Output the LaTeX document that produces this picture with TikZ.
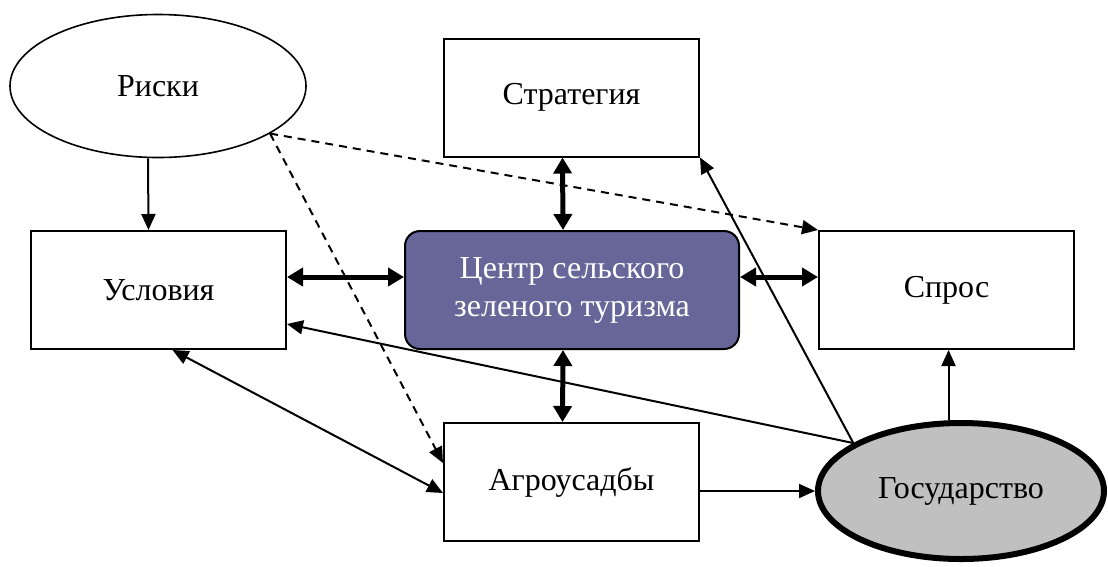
\documentclass[tikz,border=0pt]{standalone}
\usepackage{fontspec}
\setmainfont{Liberation Serif}
\usetikzlibrary{arrows.meta}
\usetikzlibrary{shapes.geometric}
\definecolor{centrefill}{RGB}{102,102,153}
\definecolor{statefill}{RGB}{192,192,192}

\begin{document}
\begin{tikzpicture}[x=1pt, y=-1pt,
      every node/.style={font=\fontsize{32}{38}\selectfont},
      box/.style={rectangle, draw, line width=2pt, minimum width=255pt, minimum height=118pt, inner sep=0pt, align=center},
          centre box/.style={box, rounded corners=15pt, fill=centrefill, text=white, minimum width=334pt},
      oval/.style={ellipse, draw, line width=1.6pt, minimum width=296pt, minimum height=143pt, inner sep=0pt},
          state oval/.style={oval, line width=6pt, fill=statefill, minimum width=286pt, minimum height=136pt},
      link/.style={line width=2pt, -{Triangle[length=16pt,width=14pt]}},
          both link/.style={link, {Triangle[length=16pt,width=14pt]}-{Triangle[length=16pt,width=14pt]}},
          weak link/.style={link, dash pattern=on 8pt off 6pt},
      strong link/.style={line width=5pt, {Triangle[length=16pt,width=18pt]}-{Triangle[length=16pt,width=18pt]}},
      ]
        \useasboundingbox (0,0) rectangle (1108,566);

        \node[oval]        (risks)      at (158,86)    {Риски};
        \node[box]         (strategy)   at (571.5,97.5) {Стратегия};
        \node[box]         (conditions) at (158.5,290) {Условия};
        \node[centre box]  (centre)     at (572,290)   {Центр сельского\\зеленого туризма};
        \node[box]         (demand)     at (946.5,290) {Спрос};
        \node[box]         (farms)      at (571.5,482) {Агроусадбы};
        \node[state oval]  (state)      at (961,491)   {Государство};

        \draw[link] ([xshift=-10pt]risks.south) -- ([xshift=-10pt]conditions.north);

        \draw[strong link] ([yshift=13pt]conditions.east) -- ([yshift=13pt]centre.west);
        \draw[strong link] ([yshift=13pt]centre.east) -- ([yshift=13pt]demand.west);
        \draw[strong link] ([xshift=-9pt]strategy.south) -- ([xshift=-9pt]centre.north);
        \draw[strong link] ([xshift=-9pt]centre.south) -- ([xshift=-9pt]farms.north);

        \draw[weak link] (risks.-23) -- (demand.north west);
        \draw[weak link] (risks.-23) -- ([yshift=19pt]farms.west);

        \draw[both link] ([xshift=14pt]conditions.south) -- ([yshift=-11pt]farms.west);

        \draw[link] (state.156) -- ([yshift=-34pt]conditions.east);
        \draw[link] (state.156) -- (strategy.south east);
        \draw[link] (state.100) -- (state.100 |- demand.south);
        \draw[link] (farms.east |- state.west) -- (state.west);

\end{tikzpicture}
\end{document}
